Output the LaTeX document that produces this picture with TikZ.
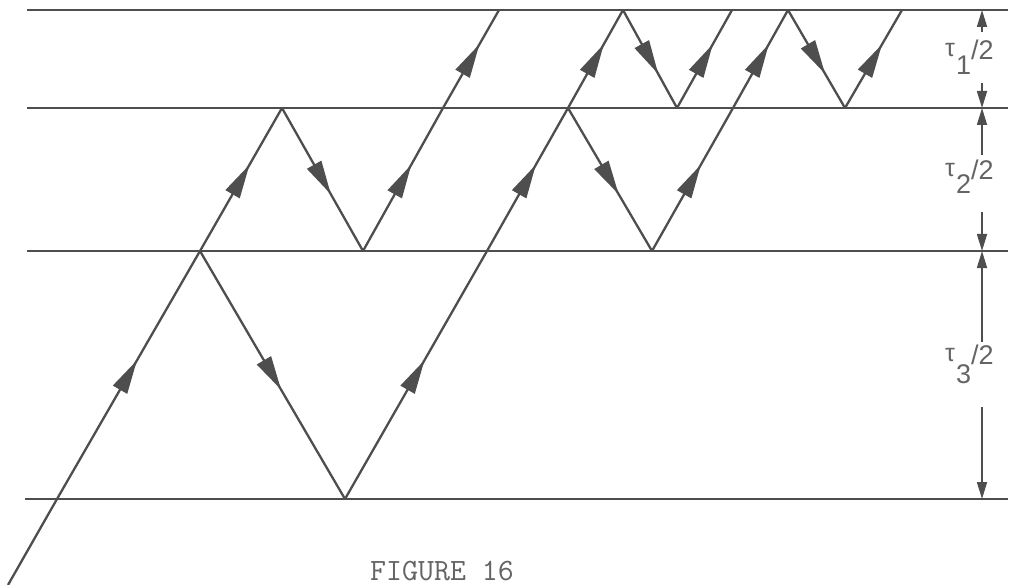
\documentclass[tikz,border=0pt]{standalone}
\usepackage{fontspec}
\setmainfont{Liberation Sans}
\usetikzlibrary{arrows.meta,decorations.markings}
\definecolor{ink}{RGB}{78,78,78}
\definecolor{inktext}{RGB}{100,100,100}
\begin{document}
\begin{tikzpicture}[x=1pt,y=-1pt,
  layer/.style={ink, line width=2.3pt},
  plainray/.style={ink, line width=2.3pt},
  ray/.style={ink, line width=2.3pt, postaction={decorate},
    decoration={markings, mark=at position 0.5 with {\arrow[xshift=17pt]{Triangle[length=34pt,width=16pt]}}}},
  dim/.style={ink, line width=1.7pt, -{Triangle[length=17pt,width=10pt]}},
  lab/.style={text=inktext, font=\fontsize{27}{27}\selectfont, inner sep=0pt, anchor=base west},
  captext/.style={text=inktext, font=\ttfamily\fontsize{31}{31}\selectfont, inner sep=0pt, anchor=base}
]
\useasboundingbox (0,0) rectangle (1019,585);
% layer boundaries
\coordinate (l1w) at (27,10);  \coordinate (l1e) at (1008,10);
\coordinate (l2w) at (27,108); \coordinate (l2e) at (1008,108);
\coordinate (l3w) at (27,251); \coordinate (l3e) at (1008,251);
\coordinate (l4w) at (25,499); \coordinate (l4e) at (1008,499);
\draw[layer] (l1w) -- (l1e);
\draw[layer] (l2w) -- (l2e);
\draw[layer] (l3w) -- (l3e);
\draw[layer] (l4w) -- (l4e);
% ray points
\coordinate (S)  at (8,585);
\coordinate (X0) at (57,499);
\coordinate (A)  at (200,251);
\coordinate (B)  at (282,108);
\coordinate (C)  at (363,251);
\coordinate (C2) at (443,108);
\coordinate (T1) at (499,10);
\coordinate (D)  at (345,499);
\coordinate (E)  at (487,251);
\coordinate (F)  at (568,108);
\coordinate (G)  at (623,10);
\coordinate (H)  at (652,251);
\coordinate (I)  at (677,108);
\coordinate (J)  at (732,10);
\coordinate (K)  at (733,108);
\coordinate (M)  at (788,10);
\coordinate (N)  at (845,108);
\coordinate (P)  at (902,10);
% rays
\draw[plainray] (S) -- (X0);
\draw[ray] (X0) -- (A);
\draw[ray] (A) -- (B);
\draw[ray] (B) -- (C);
\draw[ray] (C) -- (C2);
\draw[ray] (C2) -- (T1);
\draw[ray] (A) -- (D);
\draw[ray] (D) -- (E);
\draw[ray] (E) -- (F);
\draw[ray] (F) -- (G);
\draw[ray] (F) -- (H);
\draw[ray] (G) -- (I);
\draw[ray] (I) -- (J);
\draw[ray] (H) -- (K);
\draw[ray] (K) -- (M);
\draw[ray] (M) -- (N);
\draw[ray] (N) -- (P);
% dimension arrows
\coordinate (d1t) at (982,10);  \coordinate (d1a) at (982,32);
\coordinate (d1b) at (982,83);  \coordinate (d1c) at (982,108);
\coordinate (d2a) at (982,155); \coordinate (d2b) at (982,212);
\coordinate (d2c) at (982,251);
\coordinate (d3a) at (982,342); \coordinate (d3b) at (982,407);
\coordinate (d3c) at (982,499);
\draw[dim] (d1a) -- (d1t);
\draw[dim] (d1b) -- (d1c);
\draw[dim] (d2a) -- (d1c);
\draw[dim] (d2b) -- (d2c);
\draw[dim] (d3a) -- (d2c);
\draw[dim] (d3b) -- (d3c);
% labels
\node[lab] (t1) at (945,60)  {\raisebox{3pt}{\fontsize{25}{25}\selectfont τ}\hspace{1pt}\raisebox{-15pt}{1}/2};
\node[lab] (t2) at (945,180) {\raisebox{3pt}{\fontsize{25}{25}\selectfont τ}\hspace{1pt}\raisebox{-14pt}{2}/2};
\node[lab] (t3) at (945,364) {\raisebox{3pt}{\fontsize{25}{25}\selectfont τ}\hspace{1pt}\raisebox{-19pt}{3}/2};
\node[captext] (fig) at (442,580) {FIGURE 16};
\end{tikzpicture}
\end{document}
